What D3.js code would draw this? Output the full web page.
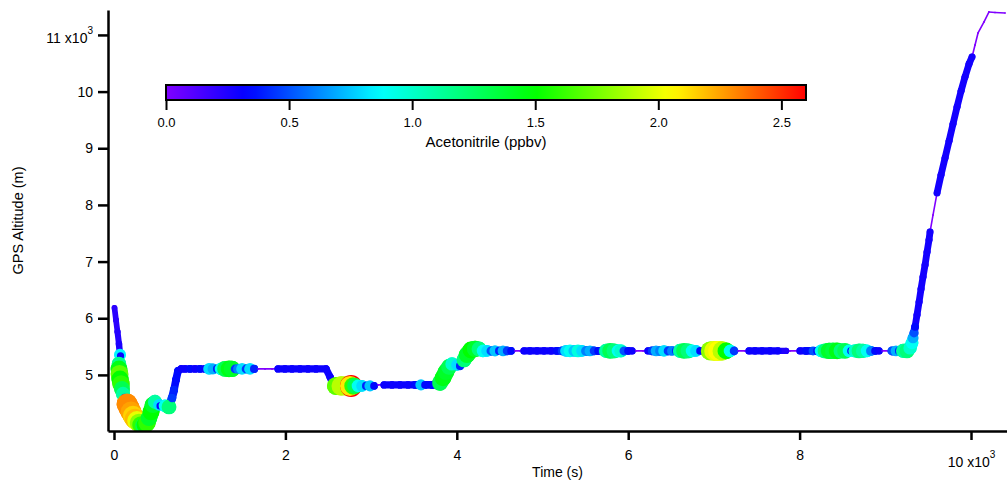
<!DOCTYPE html>
<html>
<head>
<meta charset="utf-8">
<script src="https://cdn.jsdelivr.net/npm/d3@7"></script>
<style>
  html, body { margin: 0; padding: 0; background: #fff; }
  svg { display: block; font-family: "Liberation Sans", Arial, Helvetica, sans-serif; }
</style>
</head>
<body>
<svg id="chart" width="1007" height="482"></svg>
<script>
// Flight track: elapsed time (s), GPS altitude (m) and acetonitrile mixing ratio (ppbv)
const time = [
  6, 23, 41, 58, 70, 76, 58, 58, 64, 70, 82, 93, 105, 123,
  152, 175, 198, 222, 245, 268, 292, 315, 338, 362, 385, 408, 432, 455, 478,
  525, 537, 595, 642, 677, 700, 723, 747, 782,
  828, 887, 945, 1004, 1062, 1109, 1155, 1202, 1249, 1295, 1342, 1377, 1412, 1447,
  1494, 1540, 1587, 1634, 1680, 1762, 1844, 1914, 1995, 2077, 2170, 2264, 2357, 2474,
  2521, 2556, 2590, 2649, 2766, 2754, 2789, 2812, 2847, 2894, 2941, 2987, 3034,
  3081, 3151, 3244, 3337, 3431, 3512, 3582, 3629, 3711, 3769,
  3804, 3839, 3874, 3909, 3944, 4003, 4037, 4084, 4119, 4166, 4213, 4259,
  4306, 4353, 4399, 4446, 4493, 4539, 4586, 4633, 4679, 4738,
  4784, 4854, 4936, 5018, 5099, 5169, 5228, 5274, 5321, 5368, 5414, 5461, 5508,
  5554, 5601, 5648, 5694, 5741, 5788, 5834, 5881, 5916, 5951, 5998, 6045,
  6091, 6173, 6231, 6278, 6325, 6371, 6418, 6464, 6511, 6558, 6604, 6651, 6698,
  6745, 6791, 6838, 6885, 6955, 7001, 7048, 7095, 7141, 7188, 7235,
  7281, 7363, 7410, 7480, 7562, 7655, 7748, 7842, 7888, 7970,
  8005, 8075, 8157, 8203, 8250, 8297, 8343, 8390, 8437, 8483, 8530, 8577, 8600,
  8647, 8693, 8740, 8787, 8833, 8880, 8927, 8962, 9032, 9078, 9125, 9160,
  9207, 9253, 9289, 9312, 9323, 9335, 9347,
  9370, 9394, 9417, 9440, 9464, 9487, 9510, 9522, 9557,
  9604, 9650, 9697, 9744, 9790, 9837, 9884, 9930, 9977, 10012,
  10047, 10082, 10152, 10210, 10280, 10397
];

const altitude = [
  6182, 5971, 5759, 5547, 5353, 5335, 5194, 5106, 5018, 4929, 4841, 4753, 4665, 4594,
  4488, 4418, 4347, 4277, 4224, 4188, 4153, 4118, 4100, 4118, 4153, 4241, 4347, 4471, 4524,
  4471, 4453, 4453, 4435, 4594, 4735, 4912, 5071, 5106,
  5106, 5106, 5106, 5106, 5106, 5106, 5106, 5106, 5106, 5106, 5106, 5106, 5106, 5106,
  5106, 5106, 5106, 5106, 5106, 5106, 5106, 5106, 5106, 5106, 5106, 5106, 5106, 5106,
  4965, 4824, 4806, 4806, 4806, 4806, 4806, 4806, 4806, 4806, 4806, 4806, 4806,
  4824, 4824, 4824, 4824, 4824, 4824, 4824, 4824, 4824, 4824,
  4859, 4947, 5053, 5141, 5194, 5176, 5159, 5265, 5353, 5441, 5459, 5459,
  5424, 5424, 5424, 5424, 5424, 5424, 5424, 5424, 5424, 5424,
  5424, 5424, 5424, 5424, 5424, 5424, 5424, 5424, 5424, 5424, 5424, 5424, 5424,
  5424, 5424, 5424, 5424, 5424, 5424, 5424, 5424, 5424, 5424, 5424, 5424,
  5424, 5424, 5424, 5424, 5424, 5424, 5424, 5424, 5424, 5424, 5424, 5424, 5424,
  5424, 5424, 5424, 5424, 5424, 5424, 5424, 5424, 5424, 5424, 5424,
  5424, 5424, 5424, 5424, 5424, 5424, 5424, 5424, 5424, 5424,
  5424, 5424, 5424, 5424, 5424, 5424, 5424, 5424, 5424, 5424, 5424, 5424, 5424,
  5424, 5424, 5424, 5424, 5424, 5424, 5424, 5424, 5424, 5424, 5424, 5424,
  5424, 5424, 5476, 5565, 5653, 5741, 5847,
  6059, 6288, 6518, 6729, 6941, 7170, 7382, 7523, 7823,
  8212, 8529, 8829, 9129, 9429, 9729, 10011, 10259, 10488, 10611,
  10823, 11035, 11229, 11406, 11397, 11388
];

const acetonitrile = [
  0.22, 0.22, 0.24, 0.26, 0.85, 0.3, 1.15, 1.45, 1.7, 1.5, 1.6, 1.3, 1.1, 0.45,
  2.3, 2.3, 2.25, 2.15, 2.2, 2.0, 1.8, 1.6, 1.3, 1.5, 1.6, 1.4, 1.5, 1.4, 1.1,
  0.8, 0.3, 0.9, 1.2, 0.45, 0.4, 0.35, 0.35, 0.3,
  0.3, 0.35, 0.3, 0.35, 0.3, 0.8, 0.7, 0.4, 0.9, 1.3, 1.45, 1.4, 0.45, 0.6,
  0.8, 0.45, 0.8, 0.4, 0, 0, 0, 0.3, 0.3, 0.3, 0.3, 0.3, 0.3, 0.3,
  0.3, 0.35, 1.7, 1.9, 2.6, 2.1, 1.6, 1.3, 0.9, 0.8, 0.4, 0.75, 0.35,
  0, 0.3, 0.3, 0.3, 0.3, 0.35, 0.75, 0.35, 0.35, 0.5,
  1.3, 1.45, 1.4, 1.3, 1.0, 0.8, 0.4, 1.2, 1.4, 1.5, 1.4, 1.2,
  0.9, 0.8, 0.5, 0.75, 0.4, 0.7, 0.45, 0.35, 0, 0,
  0.3, 0.3, 0.3, 0.3, 0.3, 0.35, 0.45, 0.8, 0.9, 0.75, 0.95, 0.8, 0.6,
  0.7, 0.45, 0.35, 0.4, 1.1, 1.3, 1.2, 0.9, 1.0, 0.5, 0.35, 0.3,
  0, 0, 0.3, 0.45, 0.7, 0.6, 0.8, 0.45, 0.6, 0.4, 1.1, 1.3, 1.2,
  0.9, 0.8, 0.35, 0, 1.8, 2.0, 2.05, 1.9, 1.5, 0.9, 0.45,
  0, 0, 0.3, 0.3, 0.3, 0.3, 0.3, 0.25, 0, 0,
  0.3, 0.35, 0.5, 0.35, 0.9, 1.2, 1.4, 1.35, 1.45, 1.2, 1.3, 0.9, 0.35,
  1.0, 1.2, 1.1, 0.9, 0.6, 0.35, 0.3, 0, 0, 0.5, 0.7, 0.4,
  1.1, 1.2, 1.0, 0.9, 0.7, 0.5, 0.35,
  0.28, 0.28, 0.28, 0.28, 0.28, 0.28, 0.28, 0.28, 0,
  0.28, 0.28, 0.28, 0.28, 0.28, 0.28, 0.28, 0.28, 0.28, 0.28,
  0, 0, 0, 0, 0, 0
];

const xTicks = [0, 2000, 4000, 6000, 8000, 10000];
const yTicks = [5000, 6000, 7000, 8000, 9000, 10000, 11000];
const colorTicks = [0, 0.5, 1.0, 1.5, 2.0, 2.5];
const colorStops = [0, 0.33, 0.87, 1.5, 2.05, 2.6];
const colorRamp = ["#8000ff", "#0000ff", "#00ffff", "#00ff00", "#ffff00", "#ff0000"];

const svg = d3.select("#chart");
const plot = { left: 108, right: 1007, top: 10, bottom: 431 };
const FONT = '"Liberation Sans", Arial, Helvetica, sans-serif';

const x = d3.scaleLinear().domain([-70, 10420]).range([plot.left, plot.right]);
const y = d3.scaleLinear().domain([4010, 11440]).range([plot.bottom, plot.top]);
const color = d3.scaleLinear().domain(colorStops).range(colorRamp).clamp(true);
// marker radius grows with the mixing ratio
const size = d3.scaleLinear()
  .domain([0, 0.3, 0.9, 1.4, 2.0, 2.6])
  .range([0.8, 3.6, 6.3, 8.2, 9.8, 11])
  .clamp(true);

const pts = time.map((t, i) => ({ t, a: altitude[i], c: acetonitrile[i] }));

const defs = svg.append("defs");
defs.append("clipPath").attr("id", "plotClip")
  .append("rect")
  .attr("x", plot.left).attr("y", 0)
  .attr("width", plot.right - plot.left).attr("height", plot.bottom);

// track: connecting segments, then sized/colored markers
const g = svg.append("g").attr("clip-path", "url(#plotClip)");
g.selectAll("line.seg").data(d3.pairs(pts)).join("line")
  .attr("class", "seg")
  .attr("x1", d => x(d[0].t)).attr("y1", d => y(d[0].a))
  .attr("x2", d => x(d[1].t)).attr("y2", d => y(d[1].a))
  .attr("stroke", d => color(Math.min(d[0].c, d[1].c)))
  .attr("stroke-width", d => 2 * size(Math.min(d[0].c, d[1].c)))
  .attr("stroke-linecap", "round");

g.selectAll("circle").data(pts).join("circle")
  .attr("cx", d => x(d.t))
  .attr("cy", d => y(d.a))
  .attr("r", d => size(d.c))
  .attr("fill", d => color(d.c));

// axes
function styleAxis(sel, fs) {
  sel.attr("font-family", FONT).attr("font-size", fs);
  sel.selectAll(".domain").attr("stroke", "#000").attr("stroke-width", 2.5);
  sel.selectAll(".tick line").attr("stroke", "#000").attr("stroke-width", 2.5);
  sel.selectAll(".tick text").attr("fill", "#000");
}

function exponentLabel(textSel, mantissa, dy) {
  const t = textSel.text(null).attr("dy", dy);
  t.append("tspan").text(mantissa);
  t.append("tspan").attr("dx", 4).text("x10");
  t.append("tspan").attr("font-size", 10).attr("dy", "-0.9em").text("3");
}

const yAxis = d3.axisLeft(y).tickValues(yTicks).tickSize(10).tickSizeOuter(0)
  .tickPadding(5).tickFormat(d => d / 1000);
const ya = svg.append("g").attr("transform", `translate(${plot.left},0)`).call(yAxis);
styleAxis(ya, 14);
ya.selectAll(".tick text").filter(d => d === 11000).each(function () {
  exponentLabel(d3.select(this), "11", "0.55em");
});

const xAxis = d3.axisBottom(x).tickValues(xTicks).tickSize(9).tickSizeOuter(0)
  .tickPadding(10).tickFormat(d => d / 1000);
const xa = svg.append("g").attr("transform", `translate(0,${plot.bottom})`).call(xAxis);
styleAxis(xa, 14);
xa.selectAll(".tick text").filter(d => d === 10000).each(function () {
  exponentLabel(d3.select(this), "10", "1.19em");
});

svg.append("text")
  .attr("x", (plot.left + plot.right) / 2).attr("y", 477)
  .attr("text-anchor", "middle").attr("font-size", 14).attr("fill", "#000")
  .text("Time (s)");

svg.append("text")
  .attr("transform", `translate(23,${(plot.top + plot.bottom) / 2}) rotate(-90)`)
  .attr("text-anchor", "middle").attr("font-size", 14.5).attr("fill", "#000")
  .text("GPS Altitude (m)");

// color scale bar
const cb = d3.scaleLinear().domain([0, 2.6]).range([166, 806]);
const grad = defs.append("linearGradient").attr("id", "acnGradient")
  .attr("x1", "0%").attr("x2", "100%").attr("y1", "0%").attr("y2", "0%");
d3.range(0, 1.0001, 0.02).forEach(f => {
  grad.append("stop").attr("offset", `${f * 100}%`).attr("stop-color", color(f * 2.6));
});
svg.append("rect")
  .attr("x", cb(0)).attr("y", 85)
  .attr("width", cb(2.6) - cb(0)).attr("height", 15)
  .attr("fill", "url(#acnGradient)")
  .attr("stroke", "#000").attr("stroke-width", 2);

const cbAxis = d3.axisBottom(cb).tickValues(colorTicks).tickSize(10).tickSizeOuter(0)
  .tickPadding(8).tickFormat(d3.format(".1f"));
const ca = svg.append("g").attr("transform", "translate(0,100)").call(cbAxis);
styleAxis(ca, 13);
ca.select(".domain").remove();
ca.selectAll(".tick line").attr("stroke-width", 2);

svg.append("text")
  .attr("x", (cb(0) + cb(2.6)) / 2).attr("y", 147)
  .attr("text-anchor", "middle").attr("font-size", 15).attr("fill", "#000")
  .text("Acetonitrile (ppbv)");
</script>
</body>
</html>
